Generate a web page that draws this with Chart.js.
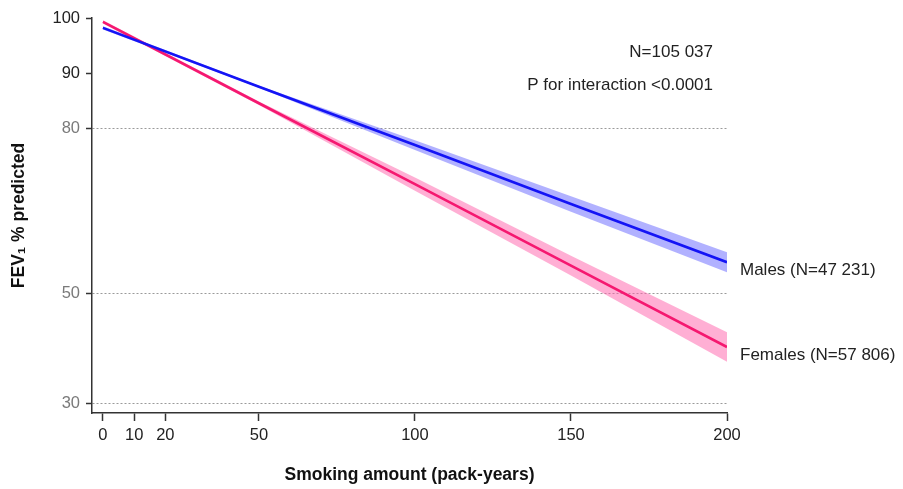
<!DOCTYPE html>
<html>
<head>
<meta charset="utf-8">
<script src="https://cdn.jsdelivr.net/npm/chart.js@4/dist/chart.umd.min.js"></script>
<style>
html,body{margin:0;padding:0;background:#fff;}
#wrap{width:903px;height:489px;position:relative;}
</style>
</head>
<body>
<div id="wrap"><canvas id="c" width="903" height="489"></canvas></div>
<script>
// Data
const packYears = [0, 50, 100, 150, 200];
const malesFit = [98.2, 87.5, 76.9, 66.2, 55.6];
const malesUpper = [98.5, 87.7, 77.8, 67.6, 57.4];
const malesLower = [97.9, 87.3, 76.0, 64.8, 53.8];
const femalesFit = [99.3, 84.5, 69.8, 55.0, 40.2];
const femalesUpper = [99.6, 84.8, 71.0, 56.8, 42.9];
const femalesLower = [99.0, 84.2, 68.6, 53.2, 37.5];
const xTicks = [0, 10, 20, 50, 100, 150, 200];
const yTicks = [30, 50, 80, 90, 100];
const gridValues = [30, 50, 80];
const greyLabels = [30, 50, 80];
const seriesLabels = ['Males (N=47 231)', 'Females (N=57 806)'];
const notes = ['N=105 037', 'P for interaction <0.0001'];

const pts = (ys) => packYears.map((x, i) => ({x: x, y: ys[i]}));

const FONT = '"Liberation Sans", Arial, Helvetica, sans-serif';

const textPlugin = {
  id: 'texts',
  afterDatasetsDraw(chart) {
    const {ctx, scales: {x, y}, chartArea} = chart;
    ctx.save();
    ctx.font = '17px ' + FONT;
    ctx.fillStyle = '#222';
    ctx.textBaseline = 'middle';
    ctx.textAlign = 'right';
    ctx.fillText(notes[0], chartArea.right - 14, 52);
    ctx.fillText(notes[1], chartArea.right - 14, 85);
    ctx.textAlign = 'left';
    const xe = x.getPixelForValue(packYears[packYears.length - 1]) + 13;
    ctx.fillText(seriesLabels[0], xe, y.getPixelForValue(malesFit[malesFit.length - 1]) + 8);
    ctx.fillText(seriesLabels[1], xe, y.getPixelForValue(femalesFit[femalesFit.length - 1]) + 8);
    ctx.restore();
  }
};

new Chart(document.getElementById('c'), {
  type: 'line',
  data: {
    datasets: [
      {label: 'mu', data: pts(malesUpper), borderWidth: 0, pointRadius: 0, fill: '+1', backgroundColor: 'rgba(100,100,255,0.5)', borderColor: 'rgba(0,0,0,0)', order: 3},
      {label: 'ml', data: pts(malesLower), borderWidth: 0, pointRadius: 0, fill: false, borderColor: 'rgba(0,0,0,0)', order: 3},
      {label: 'fu', data: pts(femalesUpper), borderWidth: 0, pointRadius: 0, fill: '+1', backgroundColor: 'rgba(255,95,170,0.5)', borderColor: 'rgba(0,0,0,0)', order: 3},
      {label: 'fl', data: pts(femalesLower), borderWidth: 0, pointRadius: 0, fill: false, borderColor: 'rgba(0,0,0,0)', order: 3},
      {label: 'Males', data: pts(malesFit), borderWidth: 2.6, pointRadius: 0, fill: false, borderColor: '#1414f5', order: 1},
      {label: 'Females', data: pts(femalesFit), borderWidth: 2.6, pointRadius: 0, fill: false, borderColor: '#f51870', order: 2}
    ]
  },
  options: {
    responsive: false,
    animation: false,
    events: [],
    layout: {padding: {top: 18, right: 176, bottom: 0, left: 0}},
    plugins: {legend: {display: false}, tooltip: {enabled: false}},
    scales: {
      x: {
        type: 'linear',
        min: -3.5,
        max: 200,
        afterBuildTicks: (s) => { s.ticks = xTicks.map(v => ({value: v})); },
        afterFit: (s) => { s.height = 76; },
        border: {display: true, color: '#333', width: 1.5},
        grid: {drawOnChartArea: false, drawTicks: true, tickLength: 8, tickColor: '#333', tickWidth: 1.5},
        ticks: {padding: 5, color: '#222', font: {family: FONT, size: 16.5}, maxRotation: 0, autoSkip: false},
        title: {display: true, text: 'Smoking amount (pack-years)', color: '#111', font: {family: FONT, size: 17.5, weight: 'bold'}, padding: {top: 0, bottom: 3}}
      },
      y: {
        type: 'linear',
        min: 28.2,
        max: 100,
        afterBuildTicks: (s) => { s.ticks = yTicks.map(v => ({value: v})); },
        afterFit: (s) => { s.width = 92; },
        border: {display: true, color: '#333', width: 1.5, dash: [2, 2]},
        grid: {
          drawOnChartArea: true,
          drawTicks: true,
          tickLength: 6,
          tickColor: '#333',
          tickWidth: 1.5,
          tickBorderDash: [],
          lineWidth: 1,
          color: (c) => (c.tick && gridValues.includes(c.tick.value)) ? '#9a9a9a' : 'rgba(0,0,0,0)'
        },
        ticks: {
          padding: 6,
          autoSkip: false,
          color: (c) => (c.tick && greyLabels.includes(c.tick.value)) ? '#7a7a7a' : '#222',
          font: {family: FONT, size: 16.5}
        },
        title: {display: true, text: 'FEV\u2081 % predicted', color: '#111', font: {family: FONT, size: 17.5, weight: 'bold'}, padding: {top: 9, bottom: 0}}
      }
    }
  },
  plugins: [textPlugin]
});
</script>
</body>
</html>
